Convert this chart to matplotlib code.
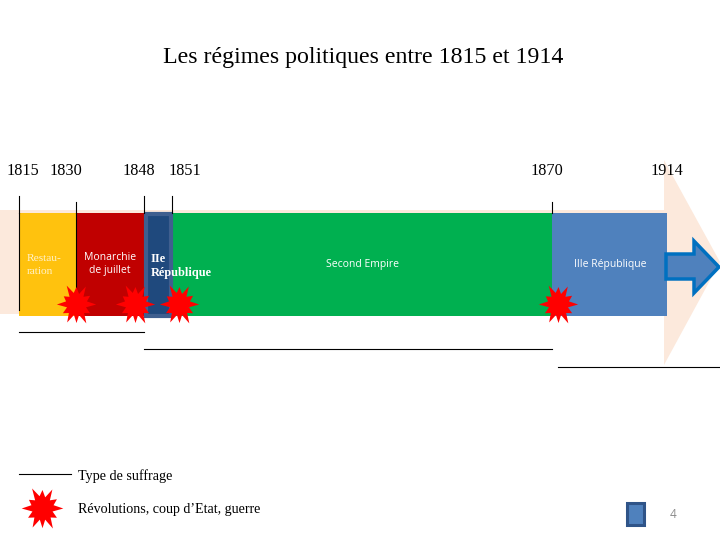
import matplotlib.pyplot as plt
from math import cos, sin, radians
from matplotlib.patches import Polygon, Rectangle
from matplotlib.path import Path

# years on top of the timeline
years = ['1815', '1830', '1848', '1851', '1870', '1914']
year_x = [23, 66, 139, 185, 547, 667]
tick_x = [19, 76, 144, 172, 552]
tick_top = [196, 202, 196, 196, 202]

# regimes
regimes = ['Restau-\nration', 'Monarchie\nde juillet', 'IIe\nRépublique', 'Second Empire', 'IIIe République']
regime_left = [19, 76, 144, 172, 552]
regime_right = [76, 144, 172, 552, 667]
regime_colors = ['#FFC20E', '#C00000', '#1F497D', '#00B050', '#4F81BD']

# suffrage lines
suffrage_left = [19, 144, 558]
suffrage_right = [144, 552, 720]
suffrage_y = [332, 349, 367]

# revolutions
burst_x = [76, 135, 179, 558]
burst_y = [304, 304, 304, 304]

# irregular star shape
burst_r = [1.0, .55, .8, .5, .95, .5, .8, .55, 1.0, .5, .75, .55, 1.0, .5, .8, .55, .95, .5, .85, .5, 1.0, .55, .8, .5]
angles = [radians(i * 15) for i in range(len(burst_r))]


def burst_path():
    pts = [(0.9 * r * cos(a), r * sin(a)) for r, a in zip(burst_r, angles)]
    return Path(pts + [pts[0]], closed=True)


fig = plt.figure(figsize=(7.2, 5.4), dpi=100)
ax = fig.add_axes([0, 0, 1, 1])
ax.set_xlim(0, 720)
ax.set_ylim(540, 0)
ax.axis('off')

serif = 'Liberation Serif'
sans = 'Open Sans'

# big pale arrow behind the timeline
ax.add_patch(Polygon([(0, 210), (664, 210), (664, 160), (720, 262), (664, 365), (664, 314), (0, 314)],
                     closed=True, fc='#FCE9DC', ec='none', zorder=1))

# regime blocks
for left, right, col in zip(regime_left, regime_right, regime_colors):
    if col == '#1F497D':
        continue
    ax.add_patch(Rectangle((left, 213), right - left, 103, fc=col, ec='none', zorder=2))
ax.add_patch(Rectangle((146, 214), 25, 102, fc='#1F497D', ec='#3F5F8F', lw=3, zorder=3))

ax.text(363, 58, 'Les régimes politiques entre 1815 et 1914', family=serif, fontsize=17.2,
        ha='center', va='center', color='black')

for x, label in zip(year_x, years):
    ax.text(x, 171, label, family=serif, fontsize=11.7, ha='center', va='center', color='black')

for x, top in zip(tick_x, tick_top):
    ax.plot([x, x], [top, 213], color='black', lw=0.8, zorder=4)
ax.plot([19, 19], [213, 310], color='black', lw=0.8, zorder=4)
ax.plot([76, 76], [213, 290], color='black', lw=0.8, zorder=4)

# regime names
ax.text(27, 265, regimes[0], family=serif, fontsize=8.2, color='#FFF2CC', ha='left', va='center', linespacing=1.45, zorder=5)
ax.text(110, 264, regimes[1], family=sans, fontsize=7.5, color='white', ha='center', va='center', linespacing=1.35, zorder=5)
ax.text(151, 266, regimes[2], family=serif, fontsize=8.8, color='white', fontweight='bold', ha='left', va='center', linespacing=1.25, zorder=5)
ax.text(362, 264, regimes[3], family=sans, fontsize=7.5, color='white', ha='center', va='center', zorder=5)
ax.text(610, 264, regimes[4], family=sans, fontsize=7.5, color='white', ha='center', va='center', zorder=5)

# small arrow to the right
ax.add_patch(Polygon([(666, 254), (694, 254), (694, 241), (719, 267), (694, 293), (694, 279), (666, 279)],
                     closed=True, fc='#4F81BD', ec='#0070C0', lw=2.5, zorder=4))

for left, right, y in zip(suffrage_left, suffrage_right, suffrage_y):
    ax.plot([left, right], [y, y], color='black', lw=0.8, zorder=4)

ax.scatter(burst_x, burst_y, s=800, marker=burst_path(), color='#FF0000', linewidths=0, zorder=6)

# legend
ax.plot([19, 71], [474, 474], color='black', lw=0.8)
ax.text(78, 476, 'Type de suffrage', family=serif, fontsize=10.2, ha='left', va='center', color='black')
ax.scatter([42], [508], s=900, marker=burst_path(), color='#FF0000', linewidths=0)
ax.text(78, 510, 'Révolutions, coup d’Etat, guerre', family=serif, fontsize=10.1, ha='left', va='center', color='black')

# page corner
ax.add_patch(Rectangle((627, 503), 17, 22, fc='#4F81BD', ec='#2F5488', lw=2.2))
ax.text(673, 514, '4', family=sans, fontsize=8.5, color='#8B8B8B', ha='center', va='center')

fig.savefig('out.png', dpi=100)
